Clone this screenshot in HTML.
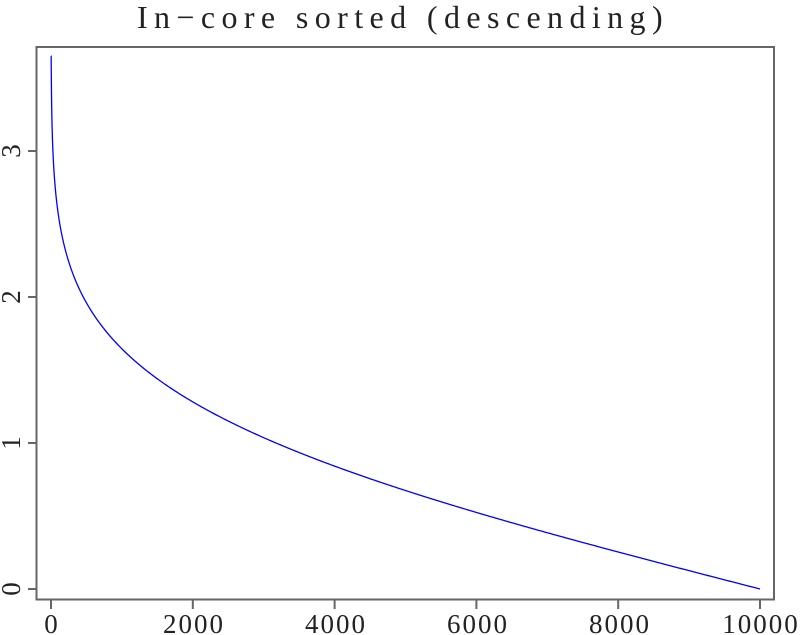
<!DOCTYPE html><html><head><style>body{margin:0;background:#fff}svg{display:block}text{font-family:"Liberation Serif",serif;fill:#222}</style></head><body>
<svg id="s" width="802" height="635" xmlns="http://www.w3.org/2000/svg">
<text x="403" y="28" font-size="32" text-anchor="middle" letter-spacing="6.4">In−core sorted (descending)</text>
<rect x="36.5" y="47" width="737.5" height="552.5" fill="none" stroke="#666" stroke-width="2"/>
<g stroke="#666" stroke-width="2">
<line x1="51" y1="600" x2="51" y2="609"/><line x1="192.8" y1="600" x2="192.8" y2="609"/><line x1="334.6" y1="600" x2="334.6" y2="609"/><line x1="476.4" y1="600" x2="476.4" y2="609"/><line x1="618.2" y1="600" x2="618.2" y2="609"/><line x1="760" y1="600" x2="760" y2="609"/>
<line x1="28" y1="589" x2="36" y2="589"/><line x1="28" y1="443" x2="36" y2="443"/><line x1="28" y1="297" x2="36" y2="297"/><line x1="28" y1="151" x2="36" y2="151"/>
</g>
<g font-size="27" text-anchor="middle" letter-spacing="2">
<text x="52" y="633">0</text><text x="194" y="633">2000</text><text x="336" y="633">4000</text><text x="478" y="633">6000</text><text x="620" y="633">8000</text><text x="761" y="633">10000</text>
</g>
<g font-size="27" text-anchor="middle">
<text transform="translate(20,589) rotate(-90)">0</text><text transform="translate(20,443) rotate(-90)">1</text><text transform="translate(20,297) rotate(-90)">2</text><text transform="translate(20,151) rotate(-90)">3</text>
</g>
<polyline id="c" fill="none" stroke="#00f" stroke-width="1.3"/>
</svg>
<script>
function ninv(p){var a=[-39.6968302866538,220.946098424521,-275.928510446969,138.357751867269,-30.6647980661472,2.50662827745924],b=[-54.4760987982241,161.585836858041,-155.698979859887,66.8013118877197,-13.2806815528857],c=[-0.00778489400243029,-0.322396458041136,-2.40075827716184,-2.54973253934373,4.37466414146497,2.93816398269878],d=[0.00778469570904146,0.32246712907004,2.445134137143,3.75440866190742];var q,r;if(p<0.02425){q=Math.sqrt(-2*Math.log(p));return(((((c[0]*q+c[1])*q+c[2])*q+c[3])*q+c[4])*q+c[5])/((((d[0]*q+d[1])*q+d[2])*q+d[3])*q+1);}if(p>1-0.02425){q=Math.sqrt(-2*Math.log(1-p));return-(((((c[0]*q+c[1])*q+c[2])*q+c[3])*q+c[4])*q+c[5])/((((d[0]*q+d[1])*q+d[2])*q+d[3])*q+1);}q=p-0.5;r=q*q;return(((((a[0]*r+a[1])*r+a[2])*r+a[3])*r+a[4])*r+a[5])*q/(((((b[0]*r+b[1])*r+b[2])*r+b[3])*r+b[4])*r+1);}
var pts=[];for(var i=0;i<=10000;i+=(i<200?2:20)){var v=Math.min(3.65,ninv(1-Math.max(i,1.3)/20000));if(i>=10000)v=0;pts.push((51+i*0.0709).toFixed(2)+','+(589-v*146).toFixed(2));}
document.getElementById('c').setAttribute('points',pts.join(' '));
</script>
</body></html>
